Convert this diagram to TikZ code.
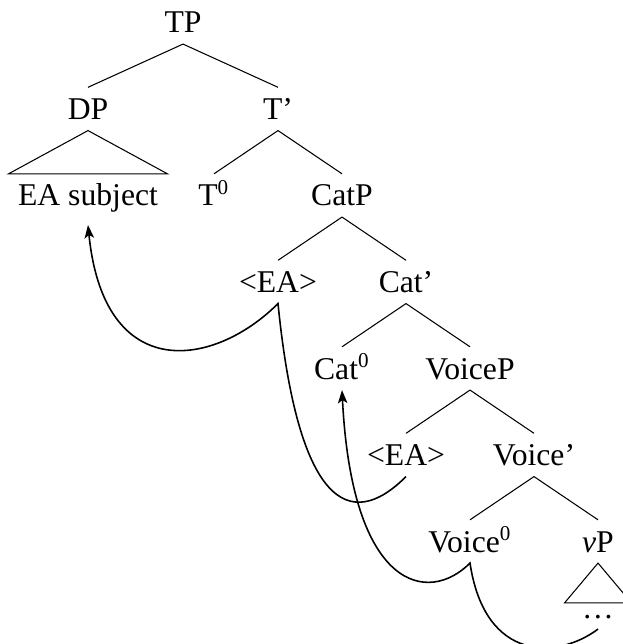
\documentclass[tikz,border=0pt]{standalone}
\usepackage{fontspec}
\setmainfont{Liberation Serif}
\usepackage{tikz}
\usetikzlibrary{arrows.meta}

\tikzset{
  word/.style={font=\fontsize{12}{14}\selectfont, anchor=base, text height=8pt, text depth=0pt, inner xsep=3.4pt, inner ysep=4pt},
  move/.style={semithick, -{Stealth[length=5pt, width=3.6pt, inset=1.2pt]}}
}

\begin{document}
\begin{tikzpicture}[x=0.379pt, y=-0.379pt]
			% The picture is measured in pixels of the reference, counted from the top left corner
			\useasboundingbox (0, 0) rectangle (623, 644);

			% The words of the tree, one row of labels for every level (rows are 86.5 apart)
			\node[word] (tp) at (183, 33) {TP};
			\node[word] (dp) at (88, 119.5) {DP};
			\node[word] (tbar) at (278, 119.5) {T’};
			\node[word, text depth=3pt] (subj) at (88, 206) {EA subject};
			\node[word] (tzero) at (214, 206) {T\textsuperscript{0}};
			\node[word] (catp) at (342, 206) {CatP};
			\node[word] (eaone) at (278, 292.5) {<EA>};
			\node[word] (catbar) at (406, 292.5) {Cat’};
			\node[word] (catzero) at (342, 379) {Cat\textsuperscript{0}};
			\node[word] (voicep) at (470, 379) {VoiceP};
			\node[word] (eatwo) at (406, 465.5) {<EA>};
			\node[word] (voicebar) at (534, 465.5) {Voice’};
			\node[word] (voicezero) at (470, 552) {Voice\textsuperscript{0}};
			\node[word] (vp) at (598, 552) {\textit{v}P};
			\node[word, text height=1.5pt, minimum width=25pt] (dots) at (598, 618) {\dots};

			% The branches, always from the bottom of the mother to the top of the daughter
			\draw (tp.south) -- (dp.north);
			\draw (tp.south) -- (tbar.north);
			\draw (tbar.south) -- (tzero.north);
			\draw (tbar.south) -- (catp.north);
			\draw (catp.south) -- (eaone.north);
			\draw (catp.south) -- (catbar.north);
			\draw (catbar.south) -- (catzero.north);
			\draw (catbar.south) -- (voicep.north);
			\draw (voicep.south) -- (eatwo.north);
			\draw (voicep.south) -- (voicebar.north);
			\draw (voicebar.south) -- (voicezero.north);
			\draw (voicebar.south) -- (vp.north);

			% The two roofs, one over the subject and one over the material below vP
			\draw (dp.south) -- (subj.north west) -- (subj.north east) -- cycle;
			\draw (vp.south) -- (dots.north west) -- (dots.north east) -- cycle;

			% Movement of the external argument: from the lower copy through the upper copy to the subject
			\draw[move] (eatwo.south) .. controls +(-57, 57) and +(20, 200) .. (eaone.south)
				.. controls +(-64, 64) and +(16, 160) .. (subj.south);

			% Head movement: from inside vP through Voice up to Cat
			\draw[move] (dots.south) .. controls +(-40, 30) and +(15, 100) .. (voicezero.south)
				.. controls +(-42, 42) and +(10, 200) .. (catzero.south);
\end{tikzpicture}
\end{document}
